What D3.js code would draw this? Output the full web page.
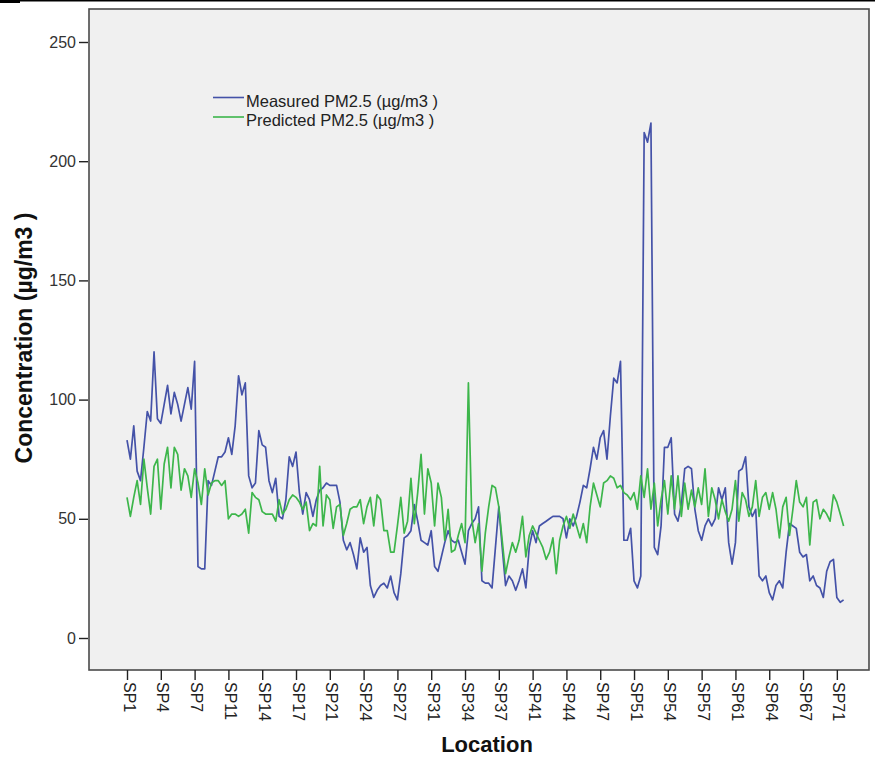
<!DOCTYPE html>
<html>
<head>
<meta charset="utf-8">
<script src="https://cdn.jsdelivr.net/npm/d3@7"></script>
<style>
  body { margin: 0; background: #fff; }
  svg { display: block; }
  text { font-family: "Liberation Sans", Arial, sans-serif; }
</style>
</head>
<body>
<svg id="chart" width="875" height="757"></svg>
<script>
// Three samples per sampling point (SP1 ... SP71), in sampling order.
const measured = [
  83, 75, 89, 70, 66, 80, 95, 91, 120, 92,
  90, 98, 106, 94, 103, 98, 91, 98, 105, 96,
  116, 30, 29, 29, 66, 64, 70, 76, 76, 78,
  84, 77, 89, 110, 102, 107, 68, 63, 65, 87,
  81, 80, 66, 61, 67, 51, 50, 58, 76, 72,
  78, 61, 52, 61, 58, 51, 58, 62, 63, 65,
  64, 64, 64, 57, 41, 37, 40, 35, 29, 42,
  36, 38, 22, 17, 20, 22, 23, 21, 26, 19,
  16, 27, 42, 43, 45, 56, 49, 41, 40, 39,
  45, 30, 28, 34, 40, 45, 41, 40, 41, 36,
  31, 45, 48, 50, 55, 24, 23, 23, 21, 38,
  55, 38, 22, 26, 24, 20, 24, 29, 21, 38,
  45, 40, 47, 48, 49, 50, 51, 51, 51, 50,
  42, 50, 47, 51, 57, 64, 63, 71, 80, 75,
  84, 87, 75, 93, 109, 107, 116, 41, 41, 46,
  24, 21, 26, 212, 208, 216, 38, 35, 47, 80,
  80, 84, 52, 49, 56, 71, 72, 71, 54, 45,
  41, 47, 50, 47, 50, 63, 58, 63, 40, 31,
  40, 70, 71, 76, 55, 51, 54, 26, 24, 26,
  19, 16, 22, 24, 21, 36, 48, 47, 46, 36,
  34, 35, 24, 26, 22, 21, 17, 28, 32, 33,
  17, 15, 16
];

const predicted = [
  59, 51, 59, 66, 56, 75, 63, 52, 72, 75,
  54, 73, 80, 63, 80, 77, 62, 71, 68, 59,
  71, 65, 56, 71, 60, 65, 66, 66, 64, 66,
  50, 52, 52, 51, 52, 54, 44, 61, 59, 58,
  53, 52, 52, 52, 49, 58, 52, 54, 58, 60,
  59, 57, 54, 57, 45, 48, 47, 72, 47, 60,
  58, 46, 55, 56, 43, 48, 54, 55, 55, 58,
  48, 55, 59, 47, 60, 58, 45, 45, 36, 36,
  47, 59, 44, 49, 67, 48, 61, 77, 52, 71,
  65, 47, 65, 59, 41, 54, 36, 37, 43, 48,
  40, 107, 50, 40, 48, 28, 44, 55, 64, 63,
  55, 41, 27, 34, 40, 36, 41, 51, 34, 43,
  47, 44, 41, 38, 33, 36, 42, 27, 41, 47,
  51, 46, 52, 47, 42, 48, 40, 55, 65, 60,
  55, 65, 66, 68, 67, 63, 64, 61, 60, 58,
  61, 54, 68, 59, 71, 54, 65, 47, 58, 66,
  52, 68, 54, 68, 51, 65, 54, 62, 55, 63,
  56, 71, 51, 63, 58, 50, 58, 53, 49, 54,
  66, 49, 61, 58, 51, 55, 66, 51, 59, 61,
  54, 61, 54, 42, 55, 59, 43, 54, 66, 57,
  55, 59, 39, 57, 58, 50, 54, 52, 49, 60,
  57, 52, 47
];

// Category labels shown on the axis: one every ten samples.
const tickLabels = ["SP1", "SP4", "SP7", "SP11", "SP14", "SP17", "SP21", "SP24",
  "SP27", "SP31", "SP34", "SP37", "SP41", "SP44", "SP47", "SP51", "SP54", "SP57",
  "SP61", "SP64", "SP67", "SP71"];
const tickStep = 10;
const yTicks = [0, 50, 100, 150, 200, 250];
const seriesNames = ["Measured PM2.5 (µg/m3 )", "Predicted PM2.5 (µg/m3 )"];
const seriesColors = ["#4452a8", "#3db64b"];

const svg = d3.select("#chart");
const frame = { left: 89, top: 9, right: 869, bottom: 670 };

// Thin rule along the top edge of the figure
svg.append("line").attr("x1", 0).attr("x2", 875).attr("y1", 0.75).attr("y2", 0.75)
  .attr("stroke", "#000").attr("stroke-width", 1.5);
svg.append("rect").attr("x", 0).attr("y", 0).attr("width", 20).attr("height", 3).attr("fill", "#000");

// Plot area
svg.append("rect")
  .attr("x", frame.left).attr("y", frame.top)
  .attr("width", frame.right - frame.left).attr("height", frame.bottom - frame.top)
  .attr("fill", "#f0f0f0").attr("stroke", "#4a4a4a").attr("stroke-width", 1.6);

const x = d3.scaleLinear().domain([0, measured.length - 1]).range([127, 843.6]);
const y = d3.scaleLinear().domain([0, 250]).range([638, 42]);

// Y axis
const yAxis = svg.append("g")
  .attr("transform", `translate(${frame.left - 1},0)`)
  .call(d3.axisLeft(y).tickValues(yTicks).tickSize(9).tickPadding(3).tickSizeOuter(0));
yAxis.select(".domain").remove();
yAxis.selectAll("line").attr("stroke", "#222").attr("stroke-width", 1.4);
yAxis.selectAll("text").attr("font-size", 16).attr("fill", "#333")
  .style("font-family", "'Liberation Sans', Arial, sans-serif");

// X axis (rotated category labels)
const xAxis = svg.append("g")
  .attr("transform", `translate(0,${frame.bottom})`)
  .call(d3.axisBottom(x)
    .tickValues(tickLabels.map((_, i) => i * tickStep))
    .tickFormat((d, i) => tickLabels[i])
    .tickSize(10).tickSizeOuter(0));
xAxis.select(".domain").remove();
xAxis.selectAll("line").attr("stroke", "#222").attr("stroke-width", 1.4);
xAxis.selectAll("text")
  .attr("font-size", 16).attr("fill", "#222")
  .style("font-family", "'Liberation Sans', Arial, sans-serif")
  .attr("text-anchor", "start")
  .attr("transform", "rotate(90)")
  .attr("x", 12).attr("y", 0).attr("dy", "0.25em");

// Series lines
const line = d3.line().x((d, i) => x(i)).y(d => y(d));
[measured, predicted].forEach((series, k) => {
  svg.append("path")
    .datum(series)
    .attr("fill", "none")
    .attr("stroke", seriesColors[k])
    .attr("stroke-width", 1.7)
    .attr("stroke-linejoin", "round")
    .attr("d", line);
});

// Legend
const legend = svg.append("g");
seriesNames.forEach((name, k) => {
  const ly = 97.5 + k * 19.5;
  legend.append("line")
    .attr("x1", 213).attr("x2", 244).attr("y1", ly).attr("y2", ly)
    .attr("stroke", seriesColors[k]).attr("stroke-width", 1.6);
  legend.append("text")
    .attr("x", 246).attr("y", ly + 9)
    .attr("font-size", 16.5).attr("fill", "#222")
    .text(name);
});

// Axis titles
svg.append("text")
  .attr("x", 487).attr("y", 752)
  .attr("text-anchor", "middle")
  .attr("font-size", 22).attr("font-weight", "bold").attr("fill", "#111")
  .text("Location");

svg.append("text")
  .attr("transform", "translate(32,338) rotate(-90)")
  .attr("text-anchor", "middle")
  .attr("font-size", 23).attr("font-weight", "bold").attr("fill", "#111")
  .text("Concentration (µg/m3 )");
</script>
</body>
</html>
